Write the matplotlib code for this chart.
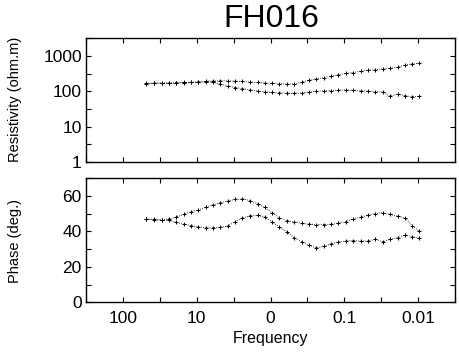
import numpy as np
import matplotlib
matplotlib.use("Agg")
import matplotlib.pyplot as plt
from matplotlib.ticker import FixedLocator, FixedFormatter

plt.rcParams['font.family'] = ['Liberation Sans', 'DejaVu Sans']

freq = [48, 38, 30, 24, 19, 15, 12, 9.6, 7.6, 6.0, 4.8, 3.8, 3.0, 2.4, 1.9, 1.5,
        1.2, 0.96, 0.76, 0.60, 0.48, 0.38, 0.30, 0.24, 0.19, 0.15, 0.12, 0.096,
        0.076, 0.060, 0.048, 0.038, 0.030, 0.024, 0.019, 0.015, 0.012, 0.0096]

rho_a = [169, 170, 172, 172, 175, 178, 180, 185, 190, 198, 200, 198, 195, 190,
         183, 178, 172, 167, 163, 160, 162, 180, 205, 225, 245, 270, 295, 320,
         340, 370, 395, 410, 430, 450, 480, 560, 600, 620]
rho_b = [165, 168, 170, 170, 173, 176, 178, 182, 185, 180, 160, 140, 128, 120,
         110, 102, 97, 93, 90, 88, 88, 90, 95, 100, 103, 105, 107, 110, 108, 105,
         100, 98, 95, 72, 83, 75, 70, 72]

phase_a = [46.9, 46.8, 46.5, 47, 48, 49.5, 51, 52, 53.5, 55, 56, 57, 58, 58.3,
           57.3, 55.5, 53.5, 50.5, 47.5, 46, 45.2, 44.5, 44, 43.8, 43.8, 44, 44.5,
           45.5, 47, 48, 49, 50, 50.5, 49.5, 48.5, 47.5, 43, 40]
phase_b = [46.8, 46.5, 46.3, 46.2, 45, 44, 43.2, 42.5, 42, 42, 42.3, 43, 45.5,
           47.5, 48.8, 49, 48, 45.5, 42.5, 39.5, 36.5, 34, 32, 30.6, 31.5, 33, 34,
           34.5, 34.8, 34.5, 34.5, 35.5, 34, 35.5, 36.5, 38, 37, 36]

x_ticks = [10 ** (k / 2) for k in range(-5, 6)]
x_labels = ['', '0.01', '', '0.1', '', '0', '', '10', '', '100', '']
rho_ticks = [10 ** (k / 2) for k in range(0, 8)]
rho_labels = ['1', '', '10', '', '100', '', '1000', '']
ph_ticks = [0, 10, 20, 30, 40, 50, 60, 70]
ph_labels = ['0', '', '20', '', '40', '', '60', '']

fig = plt.figure(figsize=(4.59, 3.54), dpi=100)
ax1 = fig.add_axes([0.1874, 0.5424, 0.8040, 0.3494])
ax2 = fig.add_axes([0.1874, 0.1460, 0.8040, 0.3511])

style = dict(color='black', marker='+', markersize=3, markeredgewidth=0.7,
             linestyle=':', linewidth=0.6)
ax1.plot(freq, rho_a, **style)
ax1.plot(freq, rho_b, **style)
ax2.plot(freq, phase_a, **style)
ax2.plot(freq, phase_b, **style)

for ax in (ax1, ax2):
    ax.set_xscale('log')
    ax.set_xlim(10 ** 2.5, 10 ** -2.5)
    ax.xaxis.set_major_locator(FixedLocator(x_ticks))
    ax.xaxis.set_minor_locator(FixedLocator([]))
    ax.tick_params(direction='in', length=3.5, width=0.8, top=True, right=True,
                   labelsize=12.5, pad=3)
    ax.tick_params(axis='x', pad=6)
    for s in ax.spines.values():
        s.set_linewidth(1.0)

ax1.set_yscale('log')
ax1.set_ylim(1, 10 ** 3.5)
ax1.yaxis.set_major_locator(FixedLocator(rho_ticks))
ax1.yaxis.set_major_formatter(FixedFormatter(rho_labels))
ax1.yaxis.set_minor_locator(FixedLocator([]))
ax1.set_xticklabels([])

ax2.set_ylim(0, 70)
ax2.yaxis.set_major_locator(FixedLocator(ph_ticks))
ax2.yaxis.set_major_formatter(FixedFormatter(ph_labels))
ax2.xaxis.set_major_formatter(FixedFormatter(x_labels))
ax2.set_xlabel('Frequency', fontsize=11.5, labelpad=4)

fig.text(0.592, 0.945, 'FH016', fontsize=23, ha='center', va='center')
fig.text(0.033, 0.72, 'Resistivity (ohm.m)', fontsize=10.5, rotation=90,
         ha='center', va='center')
fig.text(0.033, 0.32, 'Phase (deg.)', fontsize=10.5, rotation=90,
         ha='center', va='center')

fig.savefig('out.png', dpi=100)
